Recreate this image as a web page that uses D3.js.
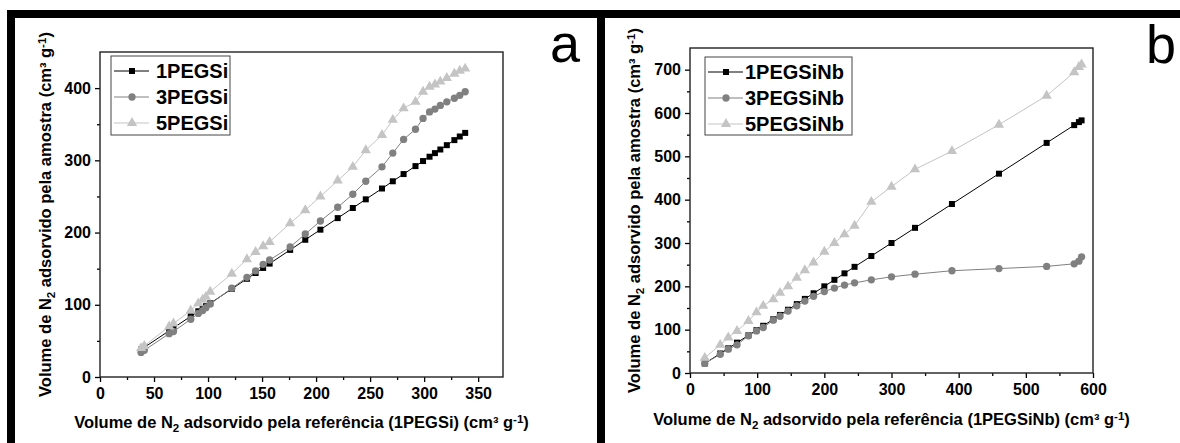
<!DOCTYPE html>
<html>
<head>
<meta charset="utf-8">
<script src="https://cdn.jsdelivr.net/npm/d3@7"></script>
<style>
    body { margin: 0; background: #fff; }
    svg { display: block; font-family: "Liberation Sans", Arial, sans-serif; }
</style>
</head>
<body>
<div id="chart"></div>
<script>
// Panel a: reference 1PEGSi
var refA = [38, 41, 64, 68, 84, 91, 95, 98, 102, 122, 136, 144, 151, 157, 176, 190, 204, 220, 234, 246, 261, 271, 281, 292, 299, 305, 310, 315, 321, 328, 333, 338];
var a1PEGSi = [38, 41, 64, 68, 84, 91, 95, 98, 102, 122, 136, 144, 151, 157, 176, 190, 204, 220, 234, 246, 261, 271, 281, 292, 299, 305, 310, 315, 321, 328, 333, 338];
var a3PEGSi = [34, 37, 60, 63, 80, 88, 92, 96, 101, 123, 138, 147, 156, 162, 180, 198, 216, 235, 253, 271, 291, 310, 329, 343, 358, 367, 371, 376, 381, 386, 390, 395];
var a5PEGSi = [40, 43, 70, 74, 92, 102, 107, 111, 118, 143, 163, 173, 181, 187, 213, 231, 250, 272, 291, 314, 335, 356, 372, 381, 395, 402, 405, 409, 414, 420, 424, 427];
var namesA = ["1PEGSi", "3PEGSi", "5PEGSi"];
var xTicksA = [0, 50, 100, 150, 200, 250, 300, 350];
var yTicksA = [0, 100, 200, 300, 400];

// Panel b: reference 1PEGSiNb
var refB = [22, 45, 57, 70, 87, 99, 109, 124, 134, 146, 159, 171, 184, 200, 215, 230, 245, 270, 300, 335, 390, 460, 531, 572, 579, 583];
var b1PEGSiNb = [22, 45, 57, 70, 87, 99, 109, 124, 134, 146, 159, 171, 184, 200, 215, 230, 245, 270, 300, 335, 390, 460, 531, 572, 579, 583];
var b3PEGSiNb = [22, 43, 55, 65, 86, 97, 105, 122, 131, 143, 155, 166, 177, 188, 196, 203, 208, 215, 222, 228, 236, 241, 246, 252, 258, 268];
var b5PEGSiNb = [35, 65, 82, 97, 120, 140, 155, 170, 185, 200, 220, 237, 255, 280, 300, 320, 340, 395, 430, 470, 512, 573, 640, 694, 706, 712];
var namesB = ["1PEGSiNb", "3PEGSiNb", "5PEGSiNb"];
var xTicksB = [0, 100, 200, 300, 400, 500, 600];
var yTicksB = [0, 100, 200, 300, 400, 500, 600, 700];

var W = 1180, H = 443;
var svg = d3.select("#chart").append("svg").attr("width", W).attr("height", H);

// marker style per series position
var styles = [
    { color: "#000000", symbol: d3.symbolSquare, size: 36 },
    { color: "#808080", symbol: d3.symbolCircle, size: 42 },
    { color: "#c4c4c4", symbol: d3.symbolTriangle, size: 46 }
];

function addTitle(sel, ref) {
    // "Volume de N2 adsorvido pela ... (cm³ g-1)" with sub/superscripts
    sel.append("tspan").text("Volume de N");
    sel.append("tspan").attr("baseline-shift", "-30%").style("font-size", "0.7em").text("2");
    sel.append("tspan").text(" adsorvido pela " + ref + " (cm³ g");
    sel.append("tspan").attr("baseline-shift", "40%").style("font-size", "0.7em").text("-1");
    sel.append("tspan").text(")");
}

function drawPanel(cfg) {
    var x = d3.scaleLinear().domain(cfg.xDomain).range([cfg.left, cfg.right]);
    var y = d3.scaleLinear().domain(cfg.yDomain).range([cfg.bottom, cfg.top]);
    var g = svg.append("g");

    // minor ticks halfway between the labelled ones
    var xMinor = cfg.xTicks.map(function(t) { return t + cfg.xStep / 2; }).filter(function(t) { return t < cfg.xDomain[1]; });
    var yMinor = cfg.yTicks.map(function(t) { return t + cfg.yStep / 2; }).filter(function(t) { return t < cfg.yDomain[1]; });

    g.append("g").attr("transform", "translate(0," + cfg.bottom + ")")
        .call(d3.axisBottom(x).tickValues(xMinor).tickSize(3).tickFormat(""))
        .call(function(a) { a.select(".domain").remove(); a.selectAll("line").attr("stroke-width", 1.3); });
    g.append("g").attr("transform", "translate(" + cfg.left + ",0)")
        .call(d3.axisLeft(y).tickValues(yMinor).tickSize(3).tickFormat(""))
        .call(function(a) { a.select(".domain").remove(); a.selectAll("line").attr("stroke-width", 1.3); });

    var xa = g.append("g").attr("transform", "translate(0," + cfg.bottom + ")")
        .call(d3.axisBottom(x).tickValues(cfg.xTicks).tickSize(5).tickSizeOuter(0).tickPadding(6));
    var ya = g.append("g").attr("transform", "translate(" + cfg.left + ",0)")
        .call(d3.axisLeft(y).tickValues(cfg.yTicks).tickSize(5).tickSizeOuter(0).tickPadding(4));
    [xa, ya].forEach(function(a) {
        a.selectAll("text").style("font-size", "16px").style("font-weight", "bold").attr("fill", "#000");
        a.selectAll("line").attr("stroke", "#000").attr("stroke-width", 1.3);
        a.select(".domain").remove();
    });

    // frame
    g.append("rect")
        .attr("x", cfg.left).attr("y", cfg.top)
        .attr("width", cfg.right - cfg.left).attr("height", cfg.bottom - cfg.top)
        .attr("fill", "none").attr("stroke", "#222").attr("stroke-width", 1.4);

    // series
    cfg.series.forEach(function(vals, i) {
        var st = styles[i];
        var pts = cfg.ref.map(function(r, k) { return [r, vals[k]]; });
        g.append("path").datum(pts)
            .attr("fill", "none").attr("stroke", st.color).attr("stroke-width", 1)
            .attr("d", d3.line().x(function(d) { return x(d[0]); }).y(function(d) { return y(d[1]); }));
        g.append("g").selectAll("path").data(pts).enter().append("path")
            .attr("transform", function(d) { return "translate(" + x(d[0]) + "," + y(d[1]) + ")"; })
            .attr("d", d3.symbol().type(st.symbol).size(st.size))
            .attr("fill", st.color);
    });

    // legend
    var lg = g.append("g");
    lg.append("rect")
        .attr("x", cfg.legend.x).attr("y", cfg.legend.y)
        .attr("width", cfg.legend.w).attr("height", cfg.legend.h)
        .attr("fill", "#fff").attr("stroke", "#444").attr("stroke-width", 1);
    cfg.names.forEach(function(name, i) {
        var st = styles[i];
        var ly = cfg.legend.y + 15 + i * 26;
        var lx = cfg.legend.x + 3;
        lg.append("line").attr("x1", lx).attr("x2", lx + 35).attr("y1", ly).attr("y2", ly)
            .attr("stroke", st.color).attr("stroke-width", 1);
        lg.append("path").attr("transform", "translate(" + (lx + 18) + "," + ly + ")")
            .attr("d", d3.symbol().type(st.symbol).size(st.size)).attr("fill", st.color);
        lg.append("text").attr("x", lx + cfg.legend.textDx).attr("y", ly + 7)
            .style("font-size", cfg.legend.font).style("font-weight", "bold").text(name);
    });

    // axis titles
    var xt = g.append("text").attr("x", (cfg.left + cfg.right) / 2).attr("y", cfg.xTitleY)
        .attr("text-anchor", "middle").style("font-size", "16.5px").style("font-weight", "bold");
    addTitle(xt, "referência (" + cfg.names[0] + ")");
    var yt = g.append("text")
        .attr("transform", "translate(" + cfg.yTitleX + "," + (cfg.top + cfg.bottom) / 2 + ") rotate(-90)")
        .attr("text-anchor", "middle").style("font-size", "16.5px").style("font-weight", "bold");
    addTitle(yt, "amostra");

    // panel letter
    g.append("text").attr("x", cfg.letterX).attr("y", cfg.letterY)
        .attr("text-anchor", "middle").style("font-size", "54px").text(cfg.letter);
}

drawPanel({
    left: 100, right: 503, top: 52, bottom: 377,
    xDomain: [0, 373], yDomain: [0, 450], xStep: 50, yStep: 100,
    xTicks: xTicksA, yTicks: yTicksA,
    ref: refA, series: [a1PEGSi, a3PEGSi, a5PEGSi], names: namesA,
    legend: { x: 111, y: 56, w: 119, h: 79, textDx: 42, font: "20px" },
    xTitleY: 428, yTitleX: 51, letter: "a", letterX: 565, letterY: 62
});

drawPanel({
    left: 690, right: 1093, top: 48, bottom: 373,
    xDomain: [0, 600], yDomain: [0, 750], xStep: 100, yStep: 100,
    xTicks: xTicksB, yTicks: yTicksB,
    ref: refB, series: [b1PEGSiNb, b3PEGSiNb, b5PEGSiNb], names: namesB,
    legend: { x: 705, y: 57, w: 147, h: 78, textDx: 37, font: "20px" },
    xTitleY: 425, yTitleX: 640, letter: "b", letterX: 1161, letterY: 63
});

// black figure frame
svg.append("rect").attr("x", 7).attr("y", 10).attr("width", W - 7).attr("height", 8).attr("fill", "#000");
svg.append("rect").attr("x", 7).attr("y", 10).attr("width", 8).attr("height", H - 10).attr("fill", "#000");
svg.append("rect").attr("x", 597).attr("y", 10).attr("width", 8).attr("height", H - 10).attr("fill", "#000");
</script>
</body>
</html>
